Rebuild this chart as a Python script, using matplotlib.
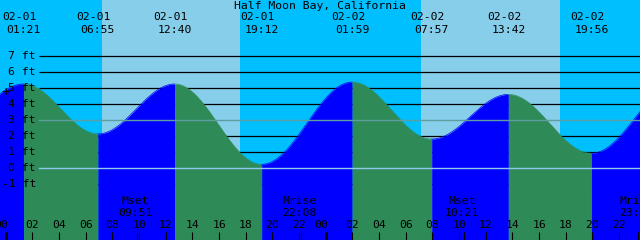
import matplotlib
matplotlib.use("Agg")
import matplotlib.pyplot as plt
import matplotlib.transforms as mtransforms
import numpy as np

# ---------------- data ----------------
title = "Half Moon Bay, California"

# labelled tide extrema (local time)
event_dates = ["02-01", "02-01", "02-01", "02-01", "02-02", "02-02", "02-02", "02-02"]
event_clock = ["01:21", "06:55", "12:40", "19:12", "01:59", "07:57", "13:42", "19:56"]
event_heights = [5.25, 2.13, 5.25, 0.23, 5.37, 1.81, 4.60, 0.92]

# extrema just outside the window (shape the curve at the edges)
edge_dates = ["01-31", "02-03"]
edge_clock = ["18:24", "02:30"]
edge_heights = [1.20, 5.36]

# sun (day = between sunrise and sunset)
sun_dates = ["02-01", "02-02"]
sunrise = ["07:12", "07:11"]
sunset = ["17:34", "17:35"]

# moon events
moon_names = ["Mset", "Mrise", "Mset", "Mrise"]
moon_dates = ["02-01", "02-01", "02-02", "02-02"]
moon_clock = ["09:51", "22:08", "10:21", "23:25"]

y_levels = [7, 6, 5, 4, 3, 2, 1, 0, -1]
mean_level = 3.0
hour_ticks = list(range(0, 48, 2))

day_offset = {"01-31": -24, "02-01": 0, "02-02": 24, "02-03": 48}


def hours(d, c):
    h, m = c.split(":")
    return day_offset[d] + int(h) + int(m) / 60.0


# ---------------- figure ----------------
W, H = 640, 240
fig = plt.figure(figsize=(W / 100, H / 100), dpi=100)
ax = fig.add_axes([0, 0, 1, 1])
px_per_hr = 320 / 24.0
x0 = -5.7 / px_per_hr
xlim = (x0, x0 + W / px_per_hr)
ylim = ((168 - 240) / 16.0, 168 / 16.0)
ax.set_xlim(*xlim)
ax.set_ylim(*ylim)
ax.axis("off")

NIGHT = "#00BFFF"
DAY = "#87CEEB"
RISE = "#0000FF"
FALL = "#2E8B57"
FONT = "DejaVu Sans Mono"
FS = 8.2

# background day/night
ax.axvspan(xlim[0] - 1, xlim[1] + 1, color=NIGHT, zorder=0, lw=0)
for d, r, s in zip(sun_dates, sunrise, sunset):
    ax.axvspan(hours(d, r), hours(d, s), color=DAY, zorder=0.5, lw=0)

# grid lines (behind tide)
tr_line = mtransforms.blended_transform_factory(ax.transAxes, ax.transData)
for lv in y_levels:
    if lv in (0, ) or lv == mean_level:
        continue
    ax.plot([39 / W, 1], [lv, lv], color="black", lw=0.9, transform=tr_line, zorder=1,
            solid_capstyle="butt")

# tide curve (cosine between extrema)
t_ext = [hours(edge_dates[0], edge_clock[0])] + [hours(d, c) for d, c in zip(event_dates, event_clock)] + [hours(edge_dates[1], edge_clock[1])]
h_ext = [edge_heights[0]] + event_heights + [edge_heights[1]]
for i in range(len(t_ext) - 1):
    ta, tb = t_ext[i], t_ext[i + 1]
    ha, hb = h_ext[i], h_ext[i + 1]
    tt = np.linspace(ta, tb, 200)
    hh = ha + (hb - ha) * (1 - np.cos(np.pi * (tt - ta) / (tb - ta))) / 2
    col = RISE if hb > ha else FALL
    ax.fill_between(tt, hh, ylim[0] - 1, color=col, lw=0, zorder=2)
    ax.plot(tt, hh, color=col, lw=0.5, zorder=2)

# mean level and datum lines (over tide)
ax.plot([39 / W, 1], [mean_level, mean_level], color="#5F9EA0", lw=1.0, transform=tr_line, zorder=3)
ax.plot([39 / W, 1], [0, 0], color="#8EC9EC", lw=1.0, transform=tr_line, zorder=3)

# y labels
for lv in y_levels:
    ax.text(36 / W, lv, f"{lv} ft", transform=tr_line, ha="right", va="center",
            fontsize=FS, family=FONT, color="black", zorder=5)
ax.text(6 / W, 4.75, "+", transform=tr_line, ha="center", va="center",
        fontsize=10, family=FONT, color="black", zorder=5)

# title
ax.text(0.5, 10.15, title, transform=tr_line, ha="center", va="center",
        fontsize=FS, family=FONT, zorder=5)

# extrema labels
shift = 4 / px_per_hr
for d, c in zip(event_dates, event_clock):
    t = hours(d, c)
    ax.text(t - shift, 9.41, d, ha="center", va="center", fontsize=FS, family=FONT, zorder=5)
    ax.text(t, 8.64, c, ha="center", va="center", fontsize=FS, family=FONT, zorder=5)

# hour ticks
for h in hour_ticks:
    mid = (h % 24 == 0)
    ax.plot([h, h], [-4.0, ylim[0]], color="black", lw=2.2 if mid else 0.8, zorder=4,
            solid_capstyle="butt")
    lx = h - (5 / px_per_hr if mid else 0)
    ax.text(lx, -3.59, f"{h % 24:02d}", ha="center", va="center", fontsize=FS,
            family=FONT, zorder=5)

# moon events
for n, d, c in zip(moon_names, moon_dates, moon_clock):
    t = hours(d, c)
    ax.plot([t, t], [-4.0, ylim[0]], color="black", lw=0.8, zorder=4, solid_capstyle="butt")
    ax.text(t - 1.5 / px_per_hr, -2.09, n, ha="center", va="center", fontsize=FS, family=FONT, zorder=5)
    ax.text(t - 1.5 / px_per_hr, -2.84, c, ha="center", va="center", fontsize=FS, family=FONT, zorder=5)

fig.savefig("out.png", dpi=100)
